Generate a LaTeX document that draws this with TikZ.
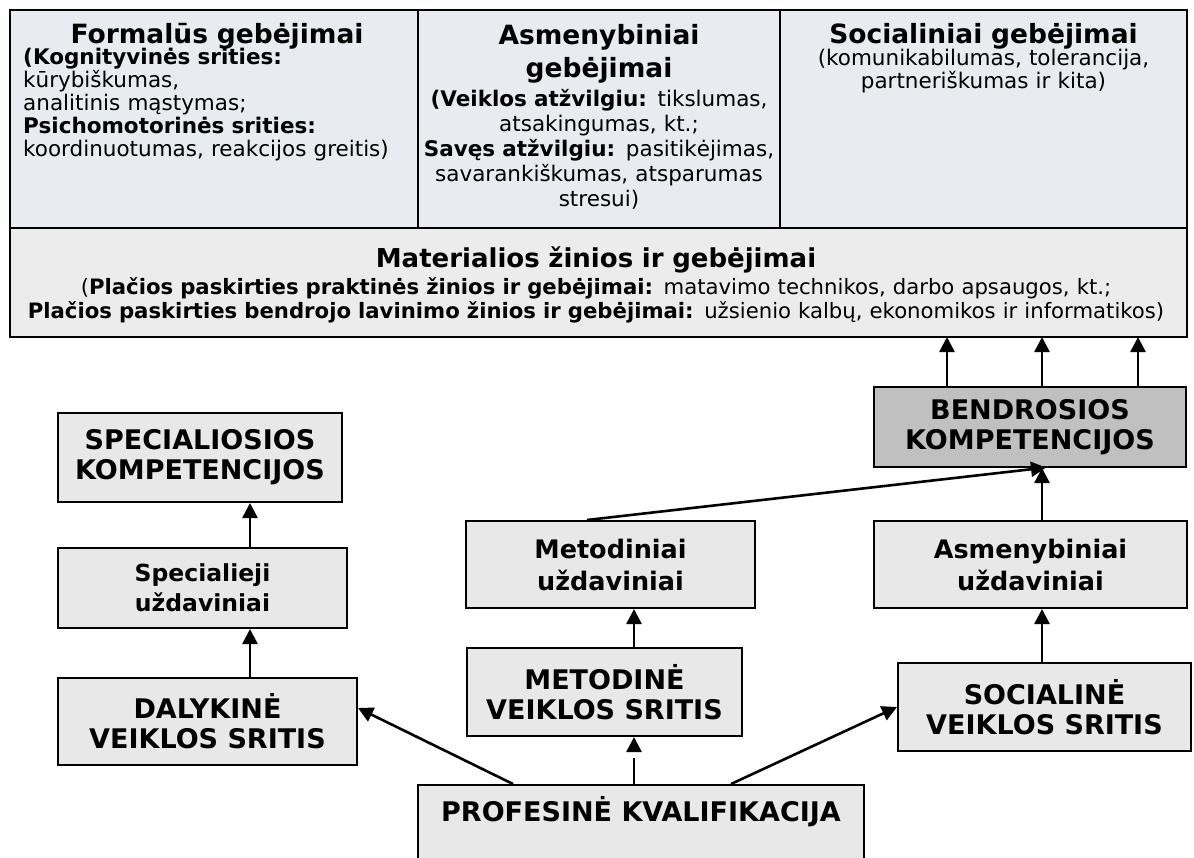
\documentclass[tikz,border=0pt]{standalone}
\usepackage{fontspec}
\setmainfont{DejaVu Sans}
\usetikzlibrary{positioning,arrows.meta}
\definecolor{cellfill}{HTML}{E8EBEF}
\definecolor{matfill}{HTML}{ECECEC}
\definecolor{boxfill}{HTML}{E8E8E8}
\definecolor{compfill}{HTML}{C0C0C0}
\lineskiplimit=-50pt
\newcommand{\bodysize}{\fontsize{21.5}{25}\selectfont}
\newcommand{\ttlsize}{\fontsize{26.5}{33}\selectfont\bfseries}
\newcommand{\capsize}{\fontsize{27}{30}\selectfont\bfseries}
\newcommand{\tasksize}{\fontsize{25.5}{32}\selectfont\bfseries}
\tikzset{
  >={Triangle[length=15pt,width=15pt]},
  cellbox/.style={draw=black,line width=2pt,fill=cellfill,outer sep=0pt,
    inner sep=0pt,minimum height=218pt,minimum width=#1},
  matbox/.style={draw=black,line width=2pt,fill=matfill,outer sep=0pt,
    inner sep=0pt,minimum height=109pt,minimum width=1177pt},
  cellttl/.style={inner sep=0pt,anchor=base,align=center,text width=400pt,
    font=\ttlsize},
  celltxt/.style={inner sep=0pt,anchor=base,align=center,text width=400pt,
    font=\bodysize},
  matttl/.style={cellttl,text width=1170pt,font=\fontsize{26}{33}\selectfont\bfseries},
  mattxt/.style={inner sep=0pt,anchor=base,align=center,text width=1170pt,
    font=\fontsize{21.2}{24}\selectfont},
  taskbox/.style={draw=black,line width=2pt,fill=boxfill,align=center,
    inner sep=2pt,font=\capsize},
  compbox/.style={taskbox,fill=compfill},
  conn/.style={->,line width=2.6pt},
}
\begin{document}
\begin{tikzpicture}[x=1pt,y=-1pt]
  \useasboundingbox (0,0) rectangle (1194,857);
  \node[cellbox=408pt,anchor=north west] (formal) at (10,10) {};
  \node[cellbox=362pt,right=0pt of formal] (asmen) {};
  \node[cellbox=407pt,right=0pt of asmen] (social) {};
  \node[matbox,anchor=north west] (mater) at (formal.south west) {};

  \node[cellttl] (formalttl) at (217,43) {Formalūs gebėjimai};
  \node[celltxt,align=left,text width=390pt,anchor=base west,
    font=\fontsize{21.5}{23}\selectfont] (formaltxt) at (23,64)
    {\textbf{(Kognityvinės srities:}\\kūrybiškumas,\\analitinis mąstymas;\\
     \textbf{Psichomotorinės srities:}\\koordinuotumas, reakcijos greitis)};
  \node[cellttl] (asmenttl) at (599,44) {Asmenybiniai\\gebėjimai};
  \node[celltxt] (asmentxt) at (599,106)
    {\textbf{(Veiklos atžvilgiu:} tikslumas,\\atsakingumas, kt.;\\
     \textbf{Savęs atžvilgiu:} pasitikėjimas,\\savarankiškumas, atsparumas\\stresui)};
  \node[cellttl] (socialttl) at (983.5,43) {Socialiniai gebėjimai};
  \node[celltxt,font=\fontsize{21.5}{23}\selectfont] (socialtxt) at (983.5,65)
    {(komunikabilumas, tolerancija,\\partneriškumas ir kita)};
  \node[matttl] (materttl) at (596,267) {Materialios žinios ir gebėjimai};
  \node[mattxt] (matertxt) at (596,294)
    {(\textbf{Plačios paskirties praktinės žinios ir gebėjimai:} matavimo technikos, darbo apsaugos, kt.;\\
     \textbf{Plačios paskirties bendrojo lavinimo žinios ir gebėjimai:} užsienio kalbų, ekonomikos ir informatikos)};

  \node[taskbox,minimum width=284pt,minimum height=89pt] (spec) at (200,457.5)
    {SPECIALIOSIOS\\KOMPETENCIJOS};
  \node[taskbox,minimum width=289pt,minimum height=80pt,
    font=\fontsize{23.5}{30}\selectfont\bfseries] (specu) at (202.5,588)
    {Specialieji\\uždaviniai};
  \node[taskbox,minimum width=299pt,minimum height=87pt] (dal) at (207.5,721.5)
    {DALYKINĖ\\VEIKLOS SRITIS};
  \node[taskbox,minimum width=289pt,minimum height=87pt,font=\tasksize] (metu)
    at (610.5,564.5) {Metodiniai\\uždaviniai};
  \node[taskbox,minimum width=275pt,minimum height=88pt] (metv) at (604.5,692)
    {METODINĖ\\VEIKLOS SRITIS};
  \node[compbox,minimum width=312pt,minimum height=80pt] (bend) at (1030,427)
    {BENDROSIOS\\KOMPETENCIJOS};
  \node[taskbox,minimum width=313pt,minimum height=87pt,font=\tasksize] (asmu)
    at (1030.5,564.5) {Asmenybiniai\\uždaviniai};
  \node[taskbox,minimum width=293pt,minimum height=88pt] (soc) at (1044.5,707)
    {SOCIALINĖ\\VEIKLOS SRITIS};
  \node[taskbox,anchor=north,minimum width=446pt,inner ysep=16pt,
    text height=20pt,text depth=60pt] (prof) at (641,784)
    {PROFESINĖ KVALIFIKACIJA};

  \coordinate (xs) at (250,0);
  \coordinate (xm) at (634,0);
  \coordinate (xd) at (587,0);
  \coordinate (xp) at (513,0);
  \coordinate (xq) at (731,0);
  \coordinate (xb) at (1042,0);
  \draw[conn] (specu.north -| xs) -- (spec.south -| xs);
  \draw[conn] (dal.north -| xs) -- (specu.south -| xs);
  \draw[conn] (prof.north -| xp) -- ([yshift=13.5pt]dal.east);
  \draw[conn,dash pattern=on 26pt off 6pt on 200pt] (prof.north -| xm) -- (metv.south -| xm);
  \draw[conn] (metv.north -| xm) -- (metu.south -| xm);
  \draw[conn] (prof.north -| xq) -- (soc.west);
  \draw[conn] (soc.north -| xb) -- (asmu.south -| xb);
  \draw[conn] (asmu.north -| xb) -- (bend.south -| xb);
  \draw[conn,shorten >=-4pt] (metu.north -| xd) -- (bend.south -| xb);
  \foreach \xx in {947,1042,1138}
    \draw[conn] (bend.north -| \xx,0) -- (mater.south -| \xx,0);
\end{tikzpicture}
\end{document}
